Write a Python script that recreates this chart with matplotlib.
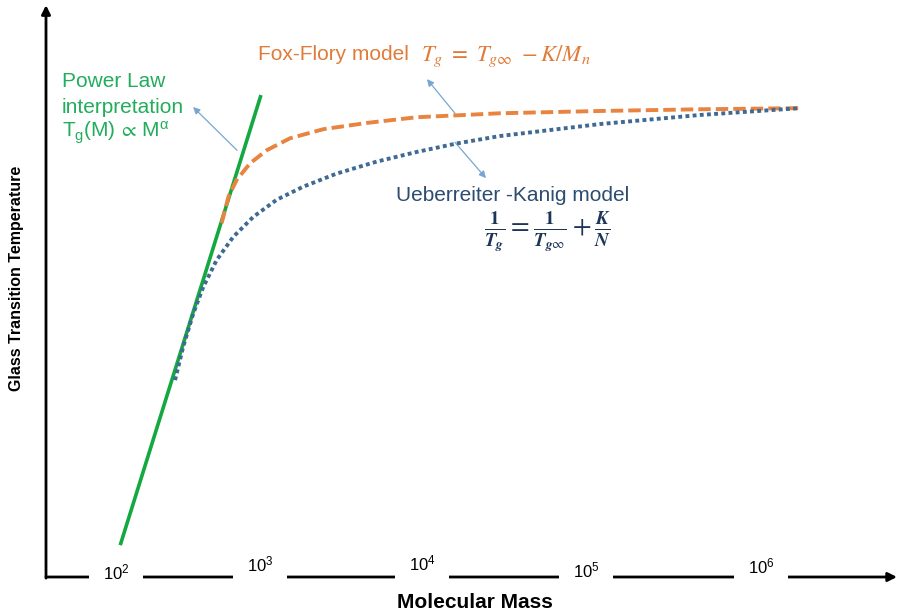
import numpy as np
import matplotlib
matplotlib.use("Agg")
import matplotlib.pyplot as plt

plt.rcParams["font.family"] = ["Liberation Sans", "DejaVu Sans"]
plt.rcParams["mathtext.fontset"] = "custom"
plt.rcParams["mathtext.rm"] = "Liberation Sans"
plt.rcParams["mathtext.it"] = "Liberation Sans:italic"
plt.rcParams["mathtext.bf"] = "Liberation Sans:bold"
plt.rcParams["mathtext.fallback"] = "stixsans"

# ---------------- data ----------------
tick_mass = [1e2, 1e3, 1e4, 1e5, 1e6]
tick_labels = ["10$^{2}$", "10$^{3}$", "10$^{4}$", "10$^{5}$", "10$^{6}$"]

# power-law interpretation (straight line)
M_power = [107, 1014]
Tg_power = [5.6, 84.7]

# Fox-Flory model (dashed)
M_fox = [542, 603, 689, 853, 1100, 1531, 2460, 4560, 9270, 29900, 120000, 448000, 1.67e6]
Tg_fox = [62.2, 66.8, 69.8, 72.7, 75.0, 77.1, 78.7, 79.8, 80.8, 81.5, 81.9, 82.2, 82.4]

# Ueberreiter-Kanig model (dotted)
M_uk = [257, 293, 344, 404, 500, 653, 899, 1268, 1849, 2972, 5248, 9270, 16330,
        29900, 120000, 448000, 1.67e6]
Tg_uk = [34.6, 40.5, 46.3, 51.0, 55.7, 59.8, 63.3, 66.3, 68.6, 70.9, 73.0, 74.7,
         76.2, 77.5, 79.6, 81.2, 82.4]

# ---------------- layout ----------------
# the schematic axis is not evenly spaced per decade: position of each decade
tick_pos = [116, 260, 422, 586, 761]
tick_y = [0.0088, 0.0228, 0.0246, 0.0123, 0.0193]
logt = np.log10(tick_mass)


def _extrap(x, xs, ys):
    y = np.interp(x, xs, ys)
    lo_s = (ys[1] - ys[0]) / (xs[1] - xs[0])
    hi_s = (ys[-1] - ys[-2]) / (xs[-1] - xs[-2])
    y = np.where(x < xs[0], ys[0] + (x - xs[0]) * lo_s, y)
    y = np.where(x > xs[-1], ys[-1] + (x - xs[-1]) * hi_s, y)
    return y


def fwd(m):
    m = np.asarray(m, dtype=float)
    with np.errstate(divide="ignore", invalid="ignore"):
        l = np.log10(np.where(m > 0, m, np.nan))
    return _extrap(l, logt, np.asarray(tick_pos, float))


def inv(u):
    u = np.asarray(u, dtype=float)
    return 10 ** _extrap(u, np.asarray(tick_pos, float), logt)


W, H = 902, 616
fig = plt.figure(figsize=(W / 100, H / 100), dpi=100)
ax = fig.add_axes([46 / W, 39 / H, 851 / W, 569 / H])
ax.set_xscale("function", functions=(fwd, inv))
ax.set_xlim(float(inv(46)), float(inv(897)))
ax.set_ylim(0, 100)
ax.set_xticks([])
ax.set_yticks([])
for s in ax.spines.values():
    s.set_visible(False)
ax.patch.set_alpha(0)

# axes arrows
ax.annotate("", xy=(1.0, 0), xytext=(0, 0), xycoords="axes fraction",
            arrowprops=dict(arrowstyle="-|>", lw=2.0, color="black",
                            mutation_scale=13, shrinkA=0, shrinkB=0), zorder=1)
ax.annotate("", xy=(0, 1.005), xytext=(0, -0.002), xycoords="axes fraction",
            arrowprops=dict(arrowstyle="-|>", lw=2.0, color="black",
                            mutation_scale=13, shrinkA=0, shrinkB=0), zorder=1)

# tick labels with white boxes that break the x axis
xt = ax.get_xaxis_transform()
for m, lab, yy in zip(tick_mass, tick_labels, tick_y):
    ax.text(m, yy, lab, transform=xt, ha="center", va="center", fontsize=12,
            zorder=3, clip_on=False,
            bbox=dict(boxstyle="square,pad=0.8", fc="white", ec="none"))

# curves
ax.plot(M_power, Tg_power, color="#14a840", lw=2.6, solid_capstyle="butt", zorder=4)
ax.plot(M_fox, Tg_fox, color="#e8843f", lw=2.8, dashes=(3.2, 1.3),
        dash_capstyle="butt", zorder=5)
ax.plot(M_uk, Tg_uk, color="#3f6a94", lw=2.8, dashes=(1.0, 0.85),
        dash_capstyle="butt", zorder=5)

# pointer arrows
arrow_kw = dict(arrowstyle="-|>", lw=0.9, color="#78a6d0", mutation_scale=10,
                shrinkA=0, shrinkB=0)
ax.annotate("", xy=(343, 82.6), xytext=(692, 75.0), arrowprops=arrow_kw)
ax.annotate("", xy=(10720, 87.5), xytext=(15890, 81.5), arrowprops=arrow_kw)
ax.annotate("", xy=(24550, 70.1), xytext=(15890, 76.4), arrowprops=arrow_kw)


def fx(x):
    return x / W


def fy(y):
    return 1 - y / H


green = "#22ad5c"
fig.text(fx(62), fy(87), "Power Law", color=green, fontsize=15, va="baseline")
fig.text(fx(62), fy(113), "interpretation", color=green, fontsize=15, va="baseline")
fig.text(fx(62), fy(137), r"T$_\mathregular{g}$(M)$\,\propto\,$M$^\mathregular{α}$",
         color=green, fontsize=15, va="baseline")

orange = "#e07b39"
fig.text(fx(258), fy(60), "Fox-Flory model", color=orange, fontsize=15, va="baseline")
fig.text(fx(421), fy(61), r"$T_g\ =\ T_{g\infty}\ -K/M_n$", color=orange,
         fontsize=16.5, va="baseline", math_fontfamily="stix")

navy = "#2c4c70"
fig.text(fx(396), fy(201), "Ueberreiter -Kanig model", color=navy, fontsize=15,
         va="baseline")
fig.text(fx(548), fy(232),
         r"$\frac{\mathbf{1}}{\mathbfit{T}_{\mathbfit{g}}} = "
         r"\frac{\mathbf{1}}{\mathbfit{T}_{\mathbfit{g}\infty}} + "
         r"\frac{\mathbfit{K}}{\mathbfit{N}}$",
         color="#1c3557", fontsize=19.5, ha="center", va="center", math_fontfamily="stix")

fig.text(fx(475), fy(603), "Molecular Mass", fontsize=15, fontweight="bold",
         ha="center", va="center")
fig.text(fx(17), fy(278), "Glass Transition Temperature", fontsize=11.5,
         fontweight="bold", ha="center", va="center", rotation=90)

fig.savefig("out.png", dpi=100)
